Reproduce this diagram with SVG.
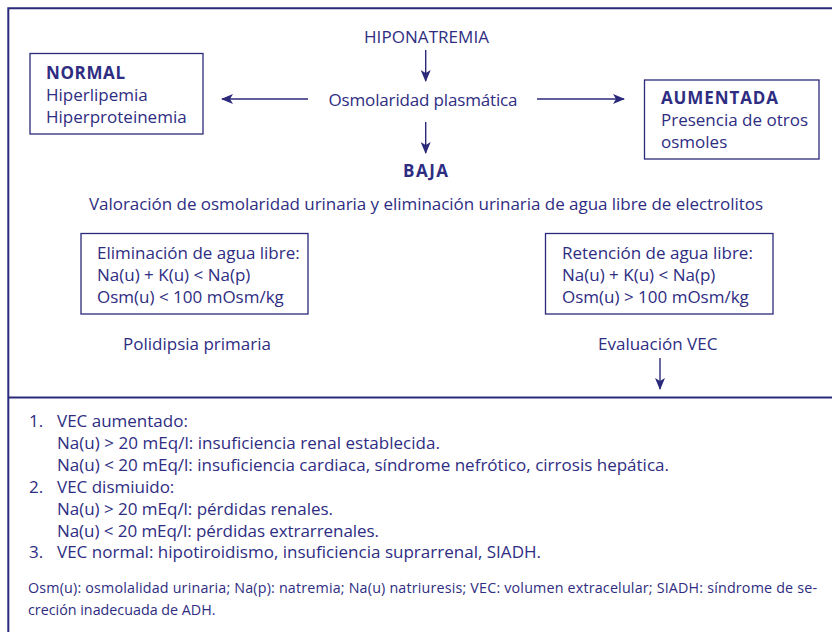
<svg xmlns="http://www.w3.org/2000/svg" width="832" height="632" viewBox="0 0 832 632">
<defs>
<marker id="ah" viewBox="0 0 12 10" refX="11" refY="5" markerWidth="12" markerHeight="10" markerUnits="userSpaceOnUse" orient="auto">
<path d="M0,0 L12,5 L0,10 L3,5 z" fill="#2b2a7a"/>
</marker>
</defs>
<style>
text{font-family:"Open Sans","Noto Sans","Liberation Sans",sans-serif;fill:#2e2d82;font-size:17px}
.b{font-weight:bold}
.s{font-size:14.3px}
.box{fill:none;stroke:#2b2a7a;stroke-width:1.3}
.frame{stroke:#2b2a7a;stroke-width:2;fill:none}
.conn line{stroke:#2b2a7a;stroke-width:1.4;marker-end:url(#ah)}
</style>
<rect width="832" height="632" fill="#fff"/>
<g id="frame">
<path class="frame" d="M832,8.3 H8.3 V632"/>
<line class="frame" x1="8.3" y1="397.5" x2="832" y2="397.5"/>
</g>
<g id="hiponatremia"><text x="426.5" y="43" text-anchor="middle" textLength="125">HIPONATREMIA</text></g>
<g id="osmolaridad"><text x="423" y="106" text-anchor="middle" textLength="189">Osmolaridad plasmática</text></g>
<g id="normal">
<rect class="box" x="30" y="53.5" width="173" height="80.5"/>
<text x="46" y="79" class="b" textLength="79">NORMAL</text>
<text x="46" y="101">Hiperlipemia</text>
<text x="46" y="123">Hiperproteinemia</text>
</g>
<g id="aumentada">
<rect class="box" x="644.5" y="80" width="174.5" height="79"/>
<text x="661" y="104" class="b" textLength="117">AUMENTADA</text>
<text x="661" y="126">Presencia de otros</text>
<text x="661" y="148">osmoles</text>
</g>
<g id="baja"><text x="403" y="177" class="b" textLength="45">BAJA</text></g>
<g id="valoracion"><text x="89" y="210" textLength="674">Valoración de osmolaridad urinaria y eliminación urinaria de agua libre de electrolitos</text></g>
<g id="eliminacion">
<rect class="box" x="81" y="233.5" width="227" height="80.5"/>
<text x="97" y="259">Eliminación de agua libre:</text>
<text x="97" y="281">Na(u) + K(u) &lt; Na(p)</text>
<text x="97" y="303">Osm(u) &lt; 100 mOsm/kg</text>
</g>
<g id="retencion">
<rect class="box" x="545.5" y="233.5" width="227.5" height="80.5"/>
<text x="562" y="259">Retención de agua libre:</text>
<text x="562" y="281">Na(u) + K(u) &lt; Na(p)</text>
<text x="562" y="303">Osm(u) &gt; 100 mOsm/kg</text>
</g>
<g id="polidipsia"><text x="123" y="350">Polidipsia primaria</text></g>
<g id="evaluacion"><text x="598" y="350">Evaluación VEC</text></g>
<g id="connectors" class="conn">
<line x1="425.7" y1="50" x2="425.7" y2="81"/>
<line x1="425.7" y1="122" x2="425.7" y2="153"/>
<line x1="308" y1="99" x2="222" y2="99"/>
<line x1="537" y1="99" x2="624" y2="99"/>
<line x1="660" y1="358" x2="660" y2="389"/>
</g>
<g id="notes">
<text x="29" y="427">1.</text><text x="57" y="427">VEC aumentado:</text>
<text x="57" y="449" textLength="383">Na(u) &gt; 20 mEq/l: insuficiencia renal establecida.</text>
<text x="57" y="471" textLength="612">Na(u) &lt; 20 mEq/l: insuficiencia cardiaca, síndrome nefrótico, cirrosis hepática.</text>
<text x="29" y="493">2.</text><text x="57" y="493">VEC dismiuido:</text>
<text x="57" y="515" textLength="276">Na(u) &gt; 20 mEq/l: pérdidas renales.</text>
<text x="57" y="537" textLength="322">Na(u) &lt; 20 mEq/l: pérdidas extrarrenales.</text>
<text x="29" y="558">3.</text><text x="57" y="558" textLength="484">VEC normal: hipotiroidismo, insuficiencia suprarrenal, SIADH.</text>
<text x="28" y="593" class="s" textLength="789">Osm(u): osmolalidad urinaria; Na(p): natremia; Na(u) natriuresis; VEC: volumen extracelular; SIADH: síndrome de se-</text>
<text x="28" y="615" class="s">creción inadecuada de ADH.</text>
</g>
</svg>
